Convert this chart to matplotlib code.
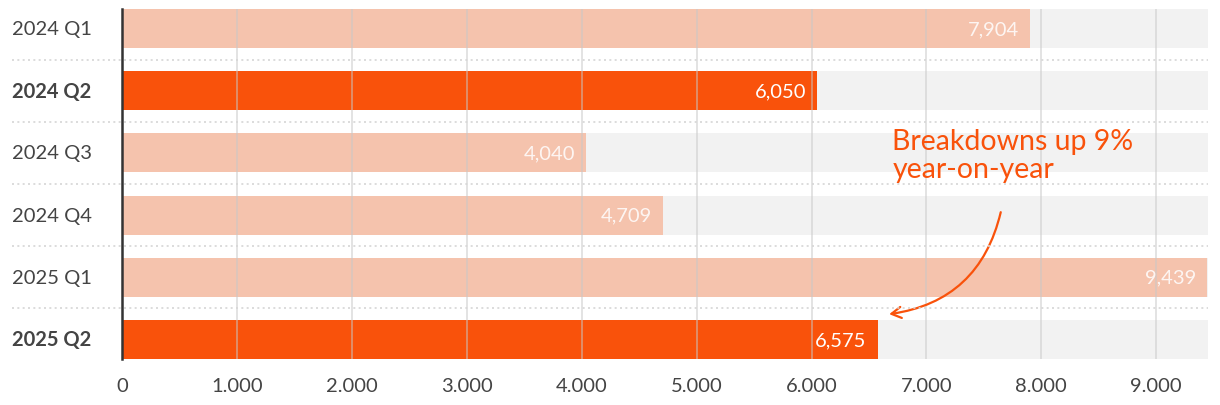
import matplotlib
matplotlib.use("Agg")
import matplotlib.pyplot as plt
from matplotlib.lines import Line2D

plt.rcParams['font.family'] = ['Lato', 'DejaVu Sans']

categories = ["2024 Q1", "2024 Q2", "2024 Q3", "2024 Q4", "2025 Q1", "2025 Q2"]
values = [7904, 6050, 4040, 4709, 9439, 6575]
highlight = [False, True, False, False, False, True]
xticks = [0, 1000, 2000, 3000, 4000, 5000, 6000, 7000, 8000, 9000]
xtick_labels = ["0", "1.000", "2.000", "3.000", "4.000", "5.000", "6.000", "7.000", "8.000", "9.000"]
xmax = 9450
annotation_text = "Breakdowns up 9%\nyear-on-year"

DARK = "#F9520B"
LIGHT = "#F5C3AD"
TRACK = "#F2F2F2"
TEXT = "#444444"

fig = plt.figure(figsize=(12.2, 4.06), dpi=100)
ax = fig.add_axes([122/1220, 1 - 360/406, (1208-122)/1220, (360-10)/406])
ax.patch.set_visible(False)

h = 0.63
ys = list(range(len(categories)))
ax.barh(ys, [xmax]*len(ys), height=h, color=TRACK, zorder=1)
ax.barh(ys, values, height=h, color=[DARK if hl else LIGHT for hl in highlight], zorder=2)

for x in xticks[1:]:
    ax.axvline(x, color="#c8c8c8", lw=1.3, alpha=0.55, zorder=3)

for y, v, hl in zip(ys, values, highlight):
    ax.text(v - 95, y, f"{v:,}", ha="right", va="center", color="white",
            fontsize=14.5, alpha=1.0 if hl else 0.85, zorder=4)

ax.set_xlim(0, xmax)
ax.set_ylim(len(ys) - 1 + h/2, -h/2)
ax.set_xticks(xticks)
ax.set_xticklabels(xtick_labels, fontsize=14.5, color=TEXT)
ax.set_yticks(ys)
ax.set_yticklabels([])
ax.tick_params(axis="x", length=0, pad=13)
ax.tick_params(axis="y", length=0)
for s in ["top", "right", "bottom"]:
    ax.spines[s].set_visible(False)
ax.spines["left"].set_color("#333333")
ax.spines["left"].set_linewidth(1.8)
ax.spines["left"].set_zorder(5)

# category labels, left aligned in figure coords
for y, c, hl in zip(ys, categories, highlight):
    fy = ax.transData.transform((0, y))[1] / fig.bbox.height
    fig.text(12/1220, fy, c, ha="left", va="center", fontsize=14.5, color=TEXT,
             fontweight="bold" if hl else "normal")

# dotted separators between rows
for i in range(len(ys) - 1):
    yy = i + 0.5
    fy = ax.transData.transform((0, yy))[1] / fig.bbox.height
    fig.add_artist(Line2D([12/1220, 1208/1220], [fy, fy], transform=fig.transFigure,
                          color="#d6d6d6", lw=1.2, linestyle=(0, (1.2, 2.0)), zorder=0.5))

ax.text(6704, 1.6, annotation_text, ha="left", va="top", fontsize=20.5,
        color=DARK, linespacing=1.1, zorder=6)
ax.annotate("", xy=(6652, 4.6), xytext=(7652, 2.91),
            arrowprops=dict(arrowstyle="->,head_length=0.7,head_width=0.4", color=DARK, lw=1.6,
                            connectionstyle="arc3,rad=-0.35"), zorder=6)

fig.savefig("out.png", dpi=100)
